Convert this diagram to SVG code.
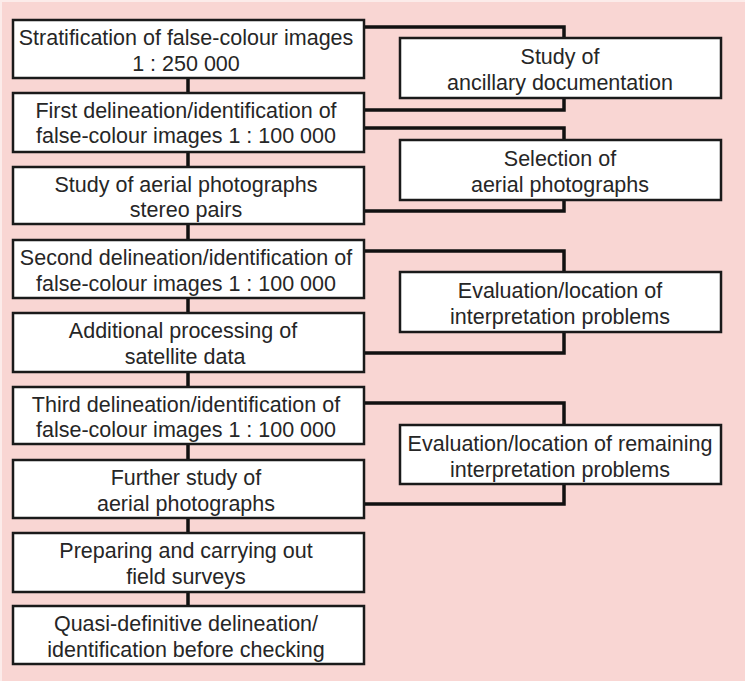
<svg xmlns="http://www.w3.org/2000/svg" width="745" height="681" viewBox="0 0 745 681">
<style>
.bx{fill:#fff;stroke:#1a1a1a;stroke-width:2.5}
.t{font-family:"Liberation Sans",Arial,sans-serif;font-size:21.5px;fill:#262626;text-anchor:middle}
.c{fill:none;stroke:#111;stroke-width:3.5;stroke-linejoin:miter}
</style>
<rect x="0" y="0" width="745" height="681" fill="#f9d6d3"/>
<rect x="0" y="0" width="745" height="2" fill="#fcecea"/>
<rect x="0" y="0" width="2" height="681" fill="#fcecea"/>
<g id="connectors">
<path class="c" d="M188 78V93M188 152V167M188 224V240M188 298V313M188 372V387M188 444V460M188 518V533M188 592V606"/>
<path class="c" d="M364 27H564V38M564 98V110H364"/>
<path class="c" d="M364 128H564V140M564 200V211H364"/>
<path class="c" d="M364 251H564V272M564 332V353H364"/>
<path class="c" d="M364 403H564V425M564 484V504H364"/>
</g>
<g id="n1"><rect class="bx" x="13" y="20" width="351" height="58"/><text class="t" x="186" y="45">Stratification of false-colour images</text><text class="t" x="186" y="71">1 : 250 000</text></g>
<g id="n2"><rect class="bx" x="13" y="93" width="351" height="59"/><text class="t" x="186" y="118">First delineation/identification of</text><text class="t" x="186" y="143">false-colour images 1 : 100 000</text></g>
<g id="n3"><rect class="bx" x="13" y="167" width="351" height="57"/><text class="t" x="186" y="192">Study of aerial photographs</text><text class="t" x="186" y="217">stereo pairs</text></g>
<g id="n4"><rect class="bx" x="13" y="240" width="351" height="58"/><text class="t" x="186" y="265">Second delineation/identification of</text><text class="t" x="186" y="291">false-colour images 1 : 100 000</text></g>
<g id="n5"><rect class="bx" x="13" y="313" width="351" height="59"/><text class="t" x="183" y="338">Additional processing of</text><text class="t" x="185" y="364">satellite data</text></g>
<g id="n6"><rect class="bx" x="13" y="387" width="351" height="57"/><text class="t" x="186" y="412">Third delineation/identification of</text><text class="t" x="186" y="437">false-colour images 1 : 100 000</text></g>
<g id="n7"><rect class="bx" x="13" y="460" width="351" height="58"/><text class="t" x="186" y="485">Further study of</text><text class="t" x="186" y="511">aerial photographs</text></g>
<g id="n8"><rect class="bx" x="13" y="533" width="351" height="59"/><text class="t" x="186" y="558">Preparing and carrying out</text><text class="t" x="186" y="584">field surveys</text></g>
<g id="n9"><rect class="bx" x="13" y="606" width="351" height="58"/><text class="t" x="186" y="631">Quasi-definitive delineation/</text><text class="t" x="186" y="657">identification before checking</text></g>
<g id="a1"><rect class="bx" x="400" y="38" width="321" height="60"/><text class="t" x="560" y="64">Study of</text><text class="t" x="560" y="90">ancillary documentation</text></g>
<g id="a2"><rect class="bx" x="400" y="140" width="321" height="60"/><text class="t" x="560" y="166">Selection of</text><text class="t" x="560" y="192">aerial photographs</text></g>
<g id="a3"><rect class="bx" x="400" y="272" width="321" height="60"/><text class="t" x="560" y="298">Evaluation/location of</text><text class="t" x="560" y="324">interpretation problems</text></g>
<g id="a4"><rect class="bx" x="400" y="425" width="321" height="59"/><text class="t" x="560" y="451">Evaluation/location of remaining</text><text class="t" x="560" y="477">interpretation problems</text></g>
</svg>
